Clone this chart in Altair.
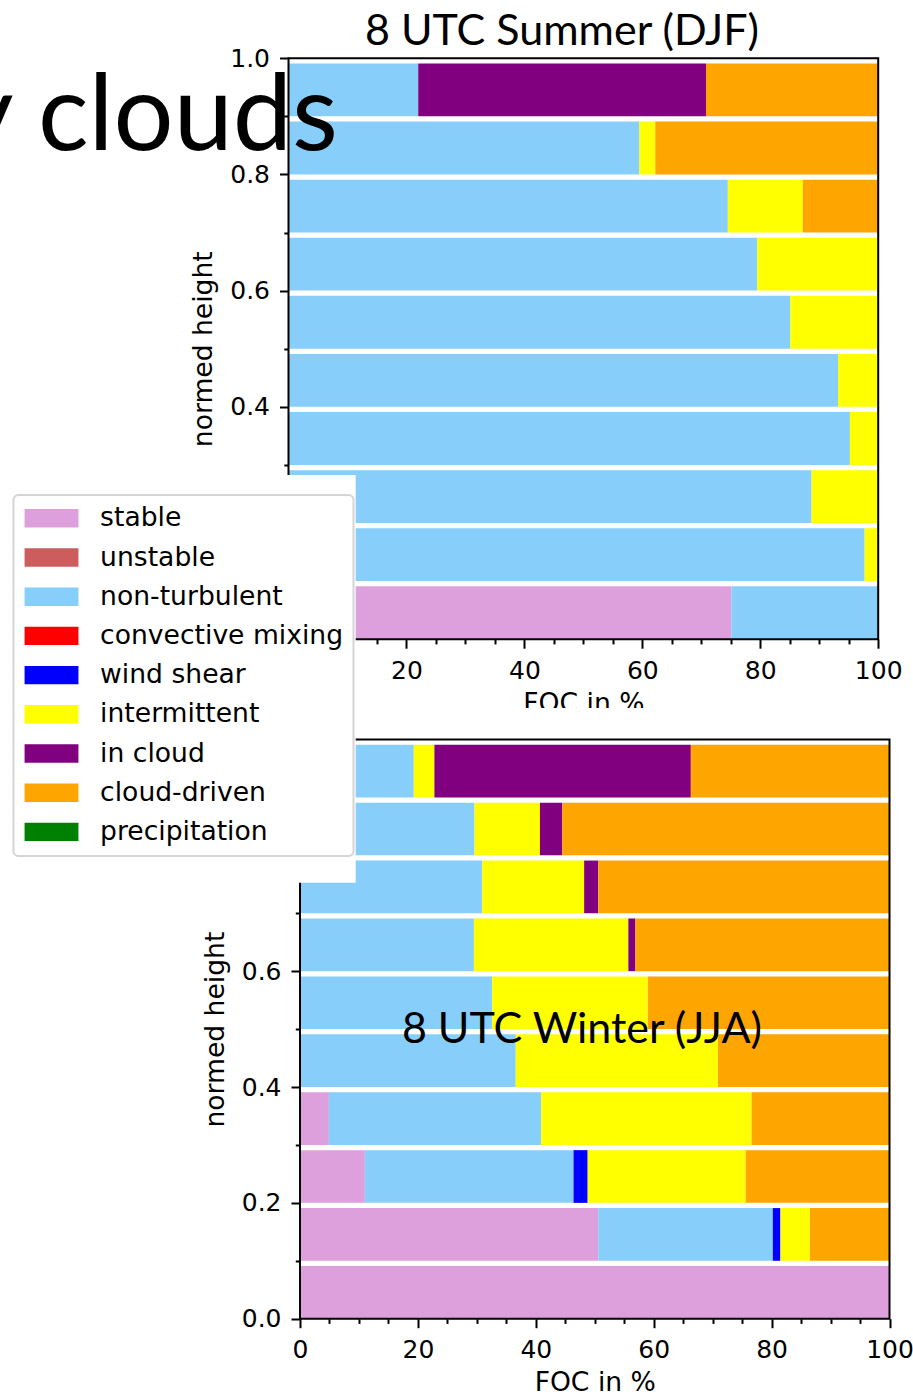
import altair as alt
import pandas as pd

# Lower edge of each 0.1-wide layer of normed height
HEIGHT_BINS = [0.0, 0.1, 0.2, 0.3, 0.4, 0.5, 0.6, 0.7, 0.8, 0.9]
BAR_HEIGHT = 0.091

CATEGORIES = ["stable", "unstable", "non-turbulent", "convective mixing",
              "wind shear", "intermittent", "in cloud", "cloud-driven",
              "precipitation"]
COLORS = ["#dda0dd", "#cd5c5c", "#87cefa", "#ff0000", "#0000ff",
          "#ffff00", "#800080", "#ffa500", "#008000"]

# Frequency of occurrence (%) per height bin, bottom bin first
SUMMER = {
    "stable":        [75.1, 0, 0, 0, 0, 0, 0, 0, 0, 0],
    "non-turbulent": [24.9, 97.7, 88.7, 95.2, 93.2, 85.1, 79.5, 74.5, 59.5, 22.0],
    "intermittent":  [0, 2.3, 11.3, 4.8, 6.8, 14.9, 20.5, 12.7, 2.7, 0],
    "in cloud":      [0, 0, 0, 0, 0, 0, 0, 0, 0, 48.8],
    "cloud-driven":  [0, 0, 0, 0, 0, 0, 0, 12.8, 37.8, 29.2],
}
WINTER = {
    "stable":        [100, 50.6, 11.0, 4.9, 0, 0, 0, 0, 0, 0],
    "non-turbulent": [0, 29.6, 35.4, 36.0, 36.6, 32.6, 29.5, 30.9, 29.6, 19.3],
    "wind shear":    [0, 1.3, 2.4, 0, 0, 0, 0, 0, 0, 0],
    "intermittent":  [0, 5.0, 26.8, 35.7, 34.3, 26.4, 26.2, 17.3, 11.1, 3.5],
    "in cloud":      [0, 0, 0, 0, 0, 0, 1.2, 2.4, 3.8, 43.5],
    "cloud-driven":  [0, 13.5, 24.4, 23.4, 29.1, 41.0, 43.1, 49.4, 55.5, 33.7],
}

MAJOR_X = [0, 20, 40, 60, 80, 100]
MINOR_X = [v for v in range(5, 100, 5) if v % 20]
MAJOR_Y = [0.0, 0.2, 0.4, 0.6, 0.8, 1.0]
MINOR_Y = [0.1, 0.3, 0.5, 0.7, 0.9]

W, H = 913, 1399
# pixel extents of the two panels: (x0, x1), (y_bottom, y_top)
TOP_X, TOP_Y = (288.5, 878.2), (639.2, 58.2)
BOT_X, BOT_Y = (300.0, 889.5), (1318.7, 739.5)


def stacked(shares):
    rows = []
    for i, low in enumerate(HEIGHT_BINS):
        left = 0.0
        for cat in CATEGORIES:
            v = shares.get(cat, [0] * len(HEIGHT_BINS))[i]
            if v > 0:
                rows.append({"category": cat, "low": low,
                             "high": low + BAR_HEIGHT,
                             "start": left, "end": left + v})
                left += v
    return pd.DataFrame(rows)


LEGEND = alt.Legend(
    orient="none", legendX=13.5, legendY=495, title=None,
    symbolType="M-1.33,-1L4.53,-1L4.53,1L-1.33,1Z", symbolSize=338,
    symbolStrokeWidth=0, symbolOpacity=1,
    labelFont="DejaVu Sans", labelFontSize=26.6, labelColor="black",
    labelLimit=600, labelOffset=50, rowPadding=12.2, padding=10,
    fillColor="white", strokeColor="#d4d4d4", cornerRadius=5,
)

ONE = pd.DataFrame({"k": [0]})


def panel(df, xr, yr):
    xs = alt.Scale(domain=[0, 100], range=list(xr), nice=False, zero=False)
    ys = alt.Scale(domain=[0, 1], range=list(yr), nice=False, zero=False)
    xoff = yr[0] - H
    yoff = -xr[0]
    bars = alt.Chart(df).mark_bar().encode(
        x=alt.X("start:Q", scale=xs,
                axis=alt.Axis(orient="bottom", offset=xoff, values=MAJOR_X,
                              format="d", tickSize=9, title="FOC in %",
                              titlePadding=7)),
        x2="end:Q",
        y=alt.Y("low:Q", scale=ys,
                axis=alt.Axis(orient="left", offset=yoff, values=MAJOR_Y,
                              format=".1f", tickSize=9, title="normed height",
                              titlePadding=12)),
        y2="high:Q",
        color=alt.Color("category:N",
                        scale=alt.Scale(domain=CATEGORIES, range=COLORS),
                        legend=LEGEND),
    )
    minor = alt.Chart(df).mark_point(opacity=0).encode(
        x=alt.X("start:Q", scale=xs,
                axis=alt.Axis(orient="bottom", offset=xoff, values=MINOR_X,
                              labels=False, tickSize=4.7, title=None)),
        y=alt.Y("low:Q", scale=ys,
                axis=alt.Axis(orient="left", offset=yoff, values=MINOR_Y,
                              labels=False, tickSize=4.7, title=None)),
    )
    frame = alt.Chart(ONE).mark_rect(
        fillOpacity=0, stroke="black", strokeWidth=2
    ).encode(x=alt.value(xr[0]), x2=alt.value(xr[1]),
             y=alt.value(yr[1]), y2=alt.value(yr[0]))
    return [bars, minor, frame]


def label(text, x, y, size, align="center"):
    return alt.Chart(ONE).mark_text(
        text=text, font="Lato", fontSize=size, color="black",
        align=align, baseline="alphabetic"
    ).encode(x=alt.value(x), y=alt.value(y))


def mask(x0, x1, y0, y1):
    return alt.Chart(ONE).mark_rect(fill="white", strokeWidth=0).encode(
        x=alt.value(x0), x2=alt.value(x1), y=alt.value(y0), y2=alt.value(y1))


top_layers = panel(stacked(SUMMER), TOP_X, TOP_Y)
bot_layers = panel(stacked(WINTER), BOT_X, BOT_Y)

chart = alt.layer(
    *top_layers,
    label("y clouds", 338, 150, 106, align="right"),
    label("8 UTC Summer (DJF)", 562, 45, 43),
    mask(355.7, W, 708, 737.5),
    *bot_layers,
    mask(0, 355.7, 475, 882.7),
    label("8 UTC Winter (JJA)", 582, 1043, 43),
).resolve_scale(
    x="independent", y="independent"
).properties(
    width=W, height=H, padding=0,
    autosize=alt.AutoSizeParams(type="none"),
).configure(
    background="white",
).configure_view(
    stroke="transparent",
).configure_axis(
    labelFont="DejaVu Sans", labelFontSize=25, labelColor="black",
    labelPadding=10, labelFlush=False, labelOverlap=False,
    tickColor="black", tickWidth=2, domain=False, grid=False,
    titleFont="DejaVu Sans", titleFontSize=26.6, titleFontWeight="normal",
    titleColor="black", zindex=0,
).configure_legend(
    strokeWidth=2,
)

chart.save("out.html", embed_options={"renderer": "svg", "actions": False})
